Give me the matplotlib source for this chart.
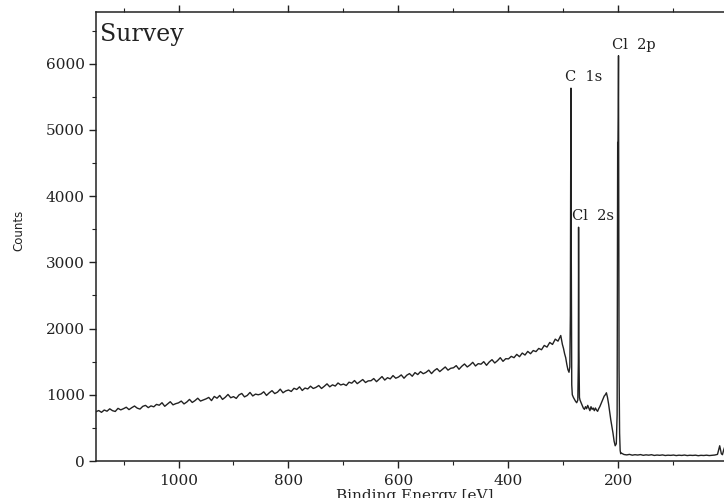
import numpy as np
import matplotlib.pyplot as plt
from matplotlib.ticker import MultipleLocator

# -------------------------
# Daten
# -------------------------

# Untergrund, hohe Bindungsenergie
bg_energy = [
    1150, 1145, 1140, 1135, 1130, 1125, 1120, 1115, 1110, 1105,
    1100, 1095, 1090, 1085, 1080, 1075, 1070, 1065, 1060, 1055,
    1050, 1045, 1040, 1035, 1030, 1025, 1020, 1015, 1010, 1005,
    1000, 995, 990, 985, 980, 975, 970, 965, 960, 955,
    950, 945, 940, 935, 930, 925, 920, 915, 910, 905,
    900, 895, 890, 885, 880, 875, 870, 865, 860, 855,
    850, 845, 840, 835, 830, 825, 820, 815, 810, 805,
    800, 795, 790, 785, 780, 775, 770, 765, 760, 755,
    750, 745, 740, 735, 730, 725, 720, 715, 710, 705,
    700, 695, 690, 685, 680, 675, 670, 665, 660, 655,
    650, 645, 640, 635, 630, 625, 620, 615, 610, 605,
    600, 595, 590, 585, 580, 575, 570, 565, 560, 555,
    550, 545, 540, 535, 530, 525, 520, 515, 510, 505,
    500, 495, 490, 485, 480, 475, 470, 465, 460, 455,
    450, 445, 440, 435, 430, 425, 420, 415, 410, 405,
    400, 395, 390, 385, 380, 375, 370, 365, 360, 355,
    350, 345, 340, 335, 330, 325, 320, 315, 310, 305,
]
bg_counts = [
    745, 762, 735, 770, 752, 788, 760, 748, 795, 772,
    790, 812, 776, 805, 830, 798, 784, 825, 840, 806,
    832, 818, 855, 842, 880, 826, 860, 895, 848, 866,
    878, 905, 862, 890, 930, 884, 912, 948, 905, 922,
    938, 960, 912, 975, 948, 990, 930, 962, 1005, 955,
    972, 945, 998, 1020, 968, 990, 1035, 982, 1010, 1000,
    1012, 1045, 990, 1030, 1062, 1018, 1040, 1085, 1030, 1058,
    1072, 1050, 1098, 1080, 1120, 1065, 1102, 1088, 1130, 1095,
    1112, 1140, 1095, 1128, 1165, 1120, 1150, 1132, 1178, 1148,
    1162, 1140, 1190, 1175, 1215, 1168, 1200, 1230, 1185, 1210,
    1212, 1245, 1198, 1236, 1275, 1222, 1258, 1240, 1290, 1250,
    1268, 1300, 1250, 1295, 1320, 1280, 1335, 1305, 1350, 1318,
    1338, 1372, 1320, 1365, 1395, 1350, 1385, 1420, 1372, 1400,
    1408, 1440, 1385, 1430, 1465, 1420, 1450, 1490, 1435, 1470,
    1462, 1500, 1445, 1495, 1530, 1480, 1515, 1560, 1505, 1545,
    1542, 1580, 1560, 1610, 1575, 1630, 1600, 1655, 1620, 1668,
    1652, 1700, 1680, 1745, 1720, 1790, 1760, 1840, 1810, 1895,
]

# Peakbereich C 1s / Cl 2s / Cl 2p
peak_energy = [
    302, 300, 298, 296, 294, 292, 290, 288.5, 287.5, 287, 286.4, 285.8, 285, 284,
    282, 280, 278, 276, 274, 273, 272.6, 272, 271, 270, 268, 266, 264, 262,
    260, 258, 256, 254, 252, 250, 248, 246, 244, 242, 240, 238, 236, 234,
    232, 230, 228, 226, 224, 222, 220, 218, 216, 214, 212, 210, 208, 206,
    204, 202.5, 201.5, 201, 200.5, 200, 199.5, 199, 198, 197, 196,
]
peak_counts = [
    1760, 1700, 1620, 1560, 1460, 1380, 1340, 1420, 2200, 4200, 5630, 3000, 1150, 1000,
    960, 930, 900, 880, 920, 1500, 3530, 1700, 960, 920, 880, 840, 800, 780,
    820, 790, 840, 800, 760, 820, 780, 800, 760, 800, 770, 750, 790, 820,
    860, 900, 940, 980, 1000, 1030, 960, 860, 740, 620, 520, 420, 300, 230,
    260, 700, 4810, 4700, 5200, 6120, 3200, 1400, 420, 160, 110,
]

# flacher Verlauf, niedrige Bindungsenergie
tail_energy = [
    195, 190, 185, 180, 175, 170, 165, 160, 155, 150,
    145, 140, 135, 130, 125, 120, 115, 110, 105, 100,
    95, 90, 85, 80, 75, 70, 65, 60, 55, 50,
    45, 40, 35, 30, 25, 20, 16, 13, 11, 9, 5, 0,
]
tail_counts = [
    120, 98, 92, 100, 88, 95, 90, 97, 86, 93,
    88, 95, 84, 90, 86, 92, 83, 88, 85, 90,
    82, 88, 84, 90, 82, 87, 84, 88, 80, 86,
    83, 88, 82, 86, 90, 100, 230, 110, 95, 160, 260, 320,
]

peak_labels = ["C  1s", "Cl  2s", "Cl  2p"]
label_x = [298, 284, 211]
label_y = [5690, 3590, 6180]

energy = np.array(bg_energy + peak_energy + tail_energy)
counts = np.array(bg_counts + peak_counts + tail_counts)

# -------------------------
# Plot
# -------------------------

fig = plt.figure(figsize=(7.24, 4.98), dpi=100, facecolor="white")
ax = fig.add_axes([96 / 724, 37 / 498, 638 / 724, 449 / 498])

ax.plot(energy, counts, color="#222222", linewidth=1.0)

ax.set_xlim(1150, -10)
ax.set_ylim(0, 6780)

ax.xaxis.set_major_locator(MultipleLocator(200))
ax.xaxis.set_minor_locator(MultipleLocator(100))
ax.yaxis.set_major_locator(MultipleLocator(1000))
ax.yaxis.set_minor_locator(MultipleLocator(500))

ax.tick_params(which="both", direction="out", top=True, right=False, color="#222222")
ax.tick_params(which="major", length=5, width=1.0, pad=3, labelsize=11)
ax.tick_params(which="minor", length=3, width=0.8)
ax.tick_params(axis="x", which="major", pad=4)

for lab in ax.get_xticklabels() + ax.get_yticklabels():
    lab.set_fontfamily("DejaVu Serif")
    lab.set_color("#222222")

for side in ["left", "bottom", "top", "right"]:
    ax.spines[side].set_linewidth(1.1)
    ax.spines[side].set_color("#222222")

ax.set_xlabel("Binding Energy [eV]", family="DejaVu Serif", fontsize=11,
              color="#222222", labelpad=1)
ax.set_ylabel("Counts", family="DejaVu Sans", fontsize=8.5, color="#222222")
ax.yaxis.set_label_coords(-0.111, 0.514)

ax.text(0.007, 0.975, "Survey", transform=ax.transAxes, family="DejaVu Serif",
        fontsize=17, color="#222222", ha="left", va="top")

for txt, x, y in zip(peak_labels, label_x, label_y):
    ax.text(x, y, txt, family="DejaVu Serif", fontsize=10.5, color="#222222",
            ha="left", va="bottom")

fig.savefig("out.png", dpi=100, facecolor="white")
